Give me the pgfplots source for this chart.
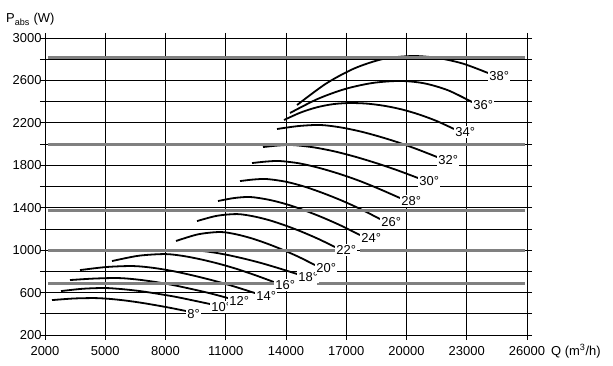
\documentclass[border=0pt]{standalone}
\usepackage{fontspec}
\setmainfont{Liberation Sans}
\usepackage{pgfplots}
\pgfplotsset{compat=1.18}
\usetikzlibrary{calc}
\definecolor{bandgray}{RGB}{128,128,128}
\newcommand{\lblfont}{\fontsize{13}{14}\selectfont}
\tikzset{
  curve/.style={black, line width=1.8bp, smooth},
  band/.style={bandgray, line width=3bp},
  lbl/.style={anchor=west, fill=white, inner sep=1.2bp, yshift=-3bp, font=\lblfont},
}
\begin{document}
\begin{tikzpicture}
\begin{axis}[
  scale only axis, width=482bp, height=297bp,
  xmin=2000, xmax=26000, ymin=200, ymax=3000,
  xtick={2000,5000,8000,11000,14000,17000,20000,23000,26000},
  ytick={200,600,1000,1400,1800,2200,2600,3000},
  minor ytick={400,800,1200,1600,2000,2400,2800},
  grid=both,
  major grid style={black, line width=0.8bp},
  minor grid style={black, line width=0.8bp},
  axis line style={black, line width=0.8bp},
  every tick/.style={black, line width=0.8bp},
  tick align=outside, major tick length=5bp, minor tick length=5bp,
  scaled ticks=false,
  /pgf/number format/1000 sep={},
  /pgf/number format/assume math mode=true,
  ticklabel style={font=\lblfont},
  xticklabel style={yshift=-3bp},
  yticklabel style={xshift=5bp},
  clip=false,
]
% curves (blade angles 8..38 deg)
\addplot[curve] coordinates {(2349,529) (3419,544) (4490,548) (5247,540) (5999,525) (6756,505) (7513,481) (8265,455) (9022,426)};
\addplot[curve] coordinates {(2797,614) (3892,636) (4988,643) (5860,632) (6731,614) (7603,589) (8474,561) (9346,527) (10217,492)};
\addplot[curve] coordinates {(3245,718) (4440,732) (5635,737) (6547,724) (7463,701) (8374,671) (9286,634) (10202,594) (11113,548)};
\addplot[curve] coordinates {(3743,812) (5063,841) (6382,850) (7394,833) (8409,801) (9420,759) (10431,711) (11446,656) (12458,595)};
\addplot[curve] coordinates {(5337,897) (6656,947) (7976,963) (8882,945) (9784,912) (10690,870) (11596,820) (12498,762) (13404,699)};
\addplot[curve] coordinates {(6980,991) (8101,998) (9221,1001) (10107,986) (10999,958) (11885,921) (12772,878) (13663,828) (14550,775)};
\addplot[curve] coordinates {(8524,1086) (9619,1149) (10715,1171) (11502,1150) (12294,1111) (13081,1060) (13867,1001) (14659,934) (15446,859)};
\addplot[curve] coordinates {(9570,1274) (10566,1324) (11562,1340) (12373,1319) (13190,1281) (14002,1230) (14814,1171) (15630,1104) (16442,1029)};
\addplot[curve] coordinates {(10615,1463) (11412,1491) (12209,1501) (13121,1476) (14037,1432) (14948,1373) (15859,1305) (16776,1228) (17687,1142)};
\addplot[curve] coordinates {(11711,1651) (12383,1666) (13056,1670) (13992,1645) (14933,1598) (15869,1536) (16806,1465) (17747,1384) (18683,1293)};
\addplot[curve] coordinates {(12309,1821) (13006,1835) (13703,1840) (14699,1817) (15695,1773) (16691,1717) (17687,1651) (18683,1574) (19679,1491)};
\addplot[curve] coordinates {(12856,1972) (13579,1986) (14301,1991) (15346,1970) (16392,1932) (17438,1881) (18484,1821) (19530,1754) (20575,1680)};
\addplot[curve] coordinates {(13554,2142) (14624,2170) (15695,2180) (16666,2159) (17637,2122) (18608,2073) (19579,2016) (20550,1950) (21522,1878)};
\addplot[curve] coordinates {(13902,2227) (14724,2297) (15546,2347) (16367,2377) (17189,2387) (18051,2381) (18917,2360) (19779,2326) (20641,2278) (21507,2217) (22368,2142)};
\addplot[curve] coordinates {(14201,2293) (15571,2425) (16940,2519) (18310,2576) (19679,2595) (20874,2573) (22069,2507) (23265,2396)};
\addplot[curve] coordinates {(14550,2368) (15994,2570) (17413,2714) (18832,2802) (20277,2830) (21537,2812) (22802,2759) (24061,2670)};
% gray bands
\addplot[band] coordinates {(2150,2820) (25900,2820)};
\addplot[band] coordinates {(2150,2000) (25900,2000)};
\addplot[band] coordinates {(2150,1370) (25900,1370)};
\addplot[band] coordinates {(2150,1000) (16650,1000)};
\addplot[band] coordinates {(17700,1000) (25900,1000)};
\addplot[band] coordinates {(2150,690) (13400,690)};
\addplot[band] coordinates {(15550,690) (25900,690)};
% labels
\node[lbl] at (axis cs:9022,426) {8°};
\node[lbl] at (axis cs:10217,492) {10°};
\node[lbl] at (axis cs:11113,548) {12°};
\node[lbl] at (axis cs:12458,595) {14°};
\node[lbl] at (axis cs:13404,699) {16°};
\node[lbl] at (axis cs:14550,775) {18°};
\node[lbl] at (axis cs:15446,859) {20°};
\node[lbl] at (axis cs:16442,1029) {22°};
\node[lbl] at (axis cs:17687,1142) {24°};
\node[lbl] at (axis cs:18683,1293) {26°};
\node[lbl] at (axis cs:19679,1491) {28°};
\node[lbl] at (axis cs:20575,1680) {30°};
\node[lbl] at (axis cs:21522,1878) {32°};
\node[lbl] at (axis cs:22368,2142) {34°};
\node[lbl] at (axis cs:23265,2396) {36°};
\node[lbl] at (axis cs:24061,2670) {38°};
\end{axis}
\node[anchor=base west, font=\lblfont, inner sep=0pt] at ($(current axis.north west)+(-39bp,15bp)$) {P\textsubscript{abs} (W)};
\node[anchor=base west, font=\lblfont, inner sep=0pt] at ($(current axis.south east)+(24bp,-20bp)$) {Q (m\textsuperscript{3}/h)};
\pgfresetboundingbox
\path[use as bounding box] ($(current axis.south west)+(-45bp,-31bp)$) rectangle ($(current axis.south west)+(568bp,335bp)$);
\end{tikzpicture}
\end{document}
